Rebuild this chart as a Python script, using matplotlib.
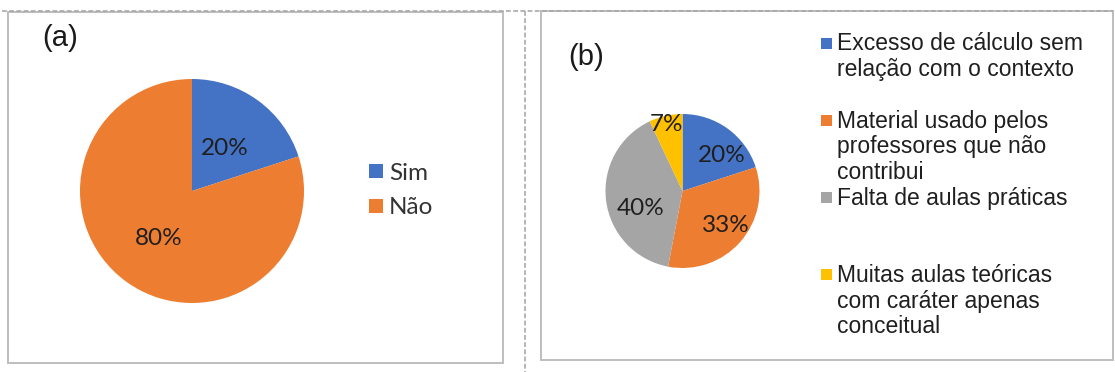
import numpy as np
import matplotlib
matplotlib.use("Agg")
import matplotlib.pyplot as plt
from matplotlib.patches import Rectangle

# ---- data ----
cats_a = ["Sim", "Não"]
vals_a = [20, 80]

cats_b = [
    "Excesso de cálculo sem\nrelação com o contexto",
    "Material usado pelos\nprofessores que não\ncontribui",
    "Falta de aulas práticas",
    "Muitas aulas teóricas\ncom caráter apenas\nconceitual",
]
vals_b = [20, 33, 40, 7]

colors_a = ["#4472C4", "#ED7D31"]
colors_b = ["#4472C4", "#ED7D31", "#A5A5A5", "#FFC000"]

W, H = 1115, 372
DPI = 100
PX = 72.0 / DPI  # points per pixel

fig = plt.figure(figsize=(W / DPI, H / DPI), dpi=DPI)
ax = fig.add_axes([0, 0, 1, 1])


def Y(py):
    """pixel row (top-down) -> data y (bottom-up)"""
    return H - py


LABEL_FONT = ["Lato", "DejaVu Sans"]
LEGEND_FONT = ["Liberation Sans", "DejaVu Sans"]
TXT = "#1f1f1f"


def draw_pie(values, colors, cx, cy, r, dist, nudge, fsize):
    wedges, _ = ax.pie(values, colors=colors, startangle=90, counterclock=False,
                       center=(cx, Y(cy)), radius=r, frame=True,
                       wedgeprops=dict(linewidth=0))
    total = float(sum(values))
    for w, v, d, dn in zip(wedges, values, dist, nudge):
        mid = np.deg2rad((w.theta1 + w.theta2) / 2.0 - dn)
        x = cx + d * r * np.cos(mid)
        y = Y(cy) + d * r * np.sin(mid)
        pct = f"{v / total * 100:.0f}%"
        ax.text(x, y - 8.5, pct, ha="center", va="baseline", fontsize=fsize,
                family=LABEL_FONT, color=TXT)


# ---- panel frames and separators ----
frame_kw = dict(fill=False, edgecolor="#bfbfbf", linewidth=2.0 * PX)
ax.add_patch(Rectangle((8, Y(363)), 503 - 8, 363 - 12, **frame_kw))
ax.add_patch(Rectangle((541, Y(360)), 1113 - 541, 360 - 11, **frame_kw))
dash_kw = dict(color="#a6a6a6", linewidth=1.6 * PX, dashes=(3, 1.5))
ax.plot([2, 1113], [Y(10.5), Y(10.5)], **dash_kw)
ax.plot([524.5, 524.5], [Y(10.5), Y(372)], **dash_kw)

# ---- panel (a) ----
ax.text(60, Y(46), "(a)", ha="center", va="baseline", fontsize=21,
        family=LEGEND_FONT, color="#1a1a1a")
draw_pie(vals_a, colors_a, 192, 191, 112, dist=[0.49, 0.5], nudge=[0, 0], fsize=17.5)
for i, (c, col) in enumerate(zip(cats_a, colors_a)):
    yc = 171 + i * 35
    ax.add_patch(Rectangle((369, Y(yc + 7)), 14, 14, facecolor=col, edgecolor="none"))
    ax.text(389, Y(yc + 8.5), c, ha="left", va="baseline", fontsize=17.5,
            family=LABEL_FONT, color="#333333")

# ---- panel (b) ----
ax.text(586, Y(65), "(b)", ha="center", va="baseline", fontsize=21,
        family=LEGEND_FONT, color="#1a1a1a")
draw_pie(vals_b, colors_b, 682.5, 191, 77, dist=[0.71, 0.70, 0.58, 0.91],
         nudge=[10, -4, -13, -1], fsize=17.5)
for i, (c, col) in enumerate(zip(cats_b, colors_b)):
    y0 = 43 + i * 77.3
    ax.add_patch(Rectangle((821, Y(y0 + 5.5)), 11, 11, facecolor=col, edgecolor="none"))
    for j, line in enumerate(c.split("\n")):
        ax.text(837, Y(y0 + j * 25.5 + 7.5), line, ha="left", va="baseline",
                fontsize=16.5, family=LEGEND_FONT, color=TXT)

ax.set_aspect("auto")
ax.set_xlim(0, W)
ax.set_ylim(0, H)
ax.set_axis_off()

fig.savefig("out.png", dpi=DPI, facecolor="white")
